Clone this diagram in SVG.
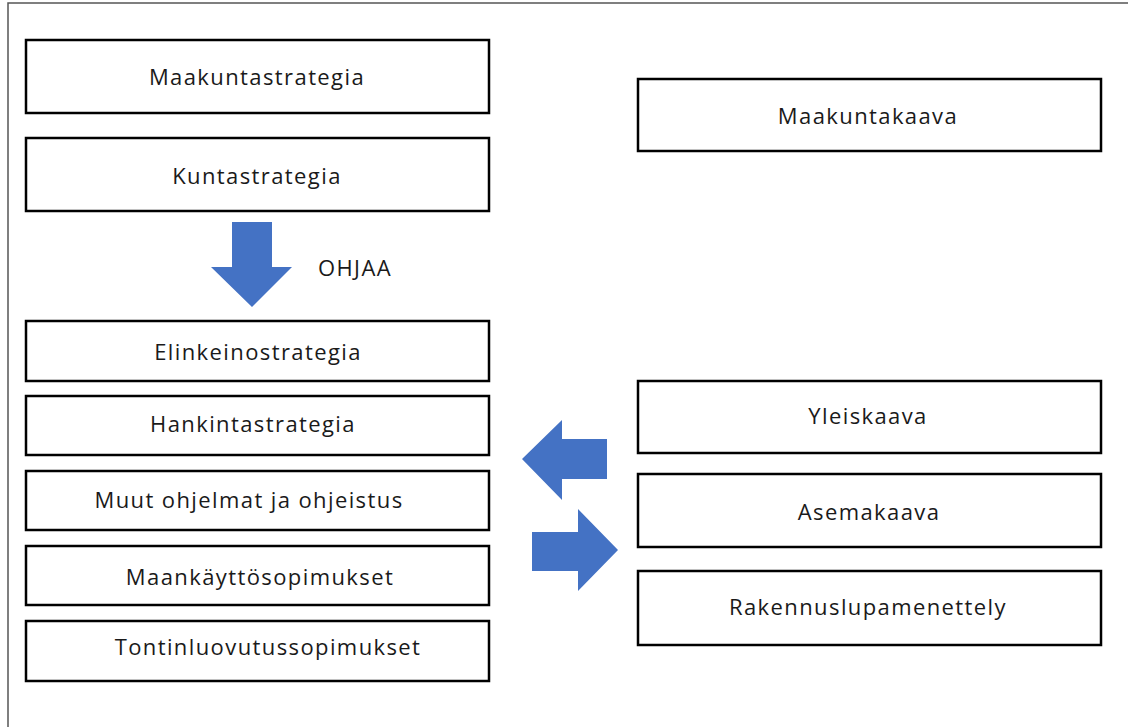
<svg xmlns="http://www.w3.org/2000/svg" width="1128" height="727" viewBox="0 0 1128 727">
<style>
.box{fill:#fff;stroke:#000;stroke-width:2.5}
.t{font-family:"Open Sans","Noto Sans",sans-serif;font-size:22px;letter-spacing:1.4px;fill:#1a1a1a;text-anchor:middle}
.arr{fill:#4472C4}
</style>
<rect x="0" y="0" width="1128" height="727" fill="#fff"/>
<rect id="frame" x="8" y="3" width="1130" height="740" fill="none" stroke="#555" stroke-width="1.5"/>
<g id="maakuntastrategia"><rect class="box" x="26" y="40" width="463" height="73"/><text class="t" x="257" y="85">Maakuntastrategia</text></g>
<g id="kuntastrategia"><rect class="box" x="26" y="138" width="463" height="73"/><text class="t" x="257" y="184">Kuntastrategia</text></g>
<g id="elinkeinostrategia"><rect class="box" x="26" y="321" width="463" height="60"/><text class="t" x="258" y="360">Elinkeinostrategia</text></g>
<g id="hankintastrategia"><rect class="box" x="26" y="396" width="463" height="59"/><text class="t" x="253" y="432">Hankintastrategia</text></g>
<g id="muut"><rect class="box" x="26" y="471" width="463" height="59"/><text class="t" x="249" y="508">Muut ohjelmat ja ohjeistus</text></g>
<g id="maankaytto"><rect class="box" x="26" y="546" width="463" height="59"/><text class="t" x="260" y="585">Maankäyttösopimukset</text></g>
<g id="tontinluovutus"><rect class="box" x="26" y="621" width="463" height="60"/><text class="t" x="268" y="655">Tontinluovutussopimukset</text></g>
<g id="maakuntakaava"><rect class="box" x="638" y="79" width="463" height="72"/><text class="t" x="868" y="124">Maakuntakaava</text></g>
<g id="yleiskaava"><rect class="box" x="638" y="381" width="463" height="72"/><text class="t" x="868" y="424">Yleiskaava</text></g>
<g id="asemakaava"><rect class="box" x="638" y="474" width="463" height="73"/><text class="t" x="869" y="520">Asemakaava</text></g>
<g id="rakennuslupa"><rect class="box" x="638" y="571" width="463" height="74"/><text class="t" x="868" y="615">Rakennuslupamenettely</text></g>
<g id="connectors">
<polygon class="arr" points="232,222 272,222 272,267 292,267 252,307 211,267 232,267"/>
<text class="t" x="355" y="276">OHJAA</text>
<polygon class="arr" points="607,439 562,439 562,420 522,459 562,500 562,479 607,479"/>
<polygon class="arr" points="532,532 578,532 578,509 618,550 578,591 578,571 532,571"/>
</g>
</svg>
